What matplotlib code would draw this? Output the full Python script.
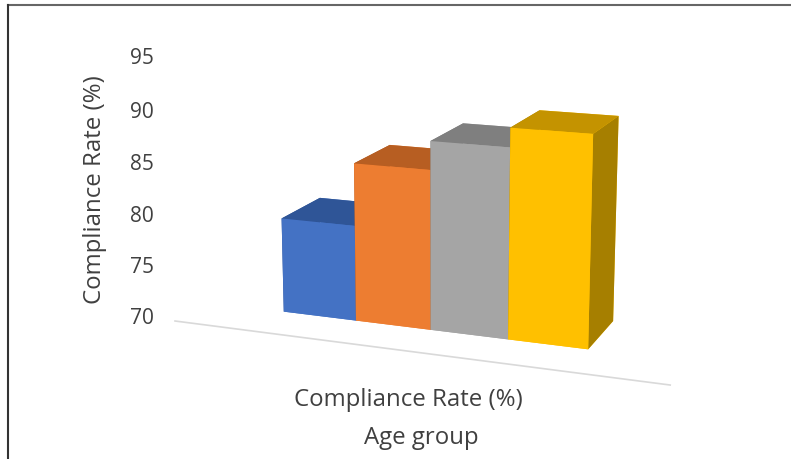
import matplotlib
matplotlib.use("Agg")
import matplotlib.pyplot as plt
from matplotlib.lines import Line2D
from mpl_toolkits.mplot3d import proj3d

# compliance rate per age group (one bar each)
age_groups = ["Group 1", "Group 2", "Group 3", "Group 4"]
rates = [79.3, 85.3, 88.0, 89.8]
z_ticks = [70, 75, 80, 85, 90, 95]

front_colors = ["#4472C4", "#ED7D31", "#A5A5A5", "#FFC000"]
top_colors = ["#2F5597", "#B75E22", "#7F7F7F", "#C49300"]
side_colors = ["#305496", "#A9521A", "#7A7A7A", "#A67F00"]

BASE = 70
X0, X1 = -1.35, 5.0
FLOOR = (-1.1, 5.18)
DEPTH = 2.9
W, H = 791, 459
FLOOR_START_PX = (175, 321)   # where the floor edge begins, pixels from top-left
plt.rcParams["font.family"] = ["Open Sans", "DejaVu Sans"]
TXT = "#404040"

fig = plt.figure(figsize=(W / 100, H / 100), dpi=100)
# oversized axes so nothing near the figure edge gets clipped; zoom compensates
ax = fig.add_axes([-0.5, -0.5, 2.0, 2.0], projection="3d",
                  proj_type="persp", focal_length=0.33)
ax.view_init(elev=13.7, azim=-69)

for i, (v, fc, tc, sc) in enumerate(zip(rates, front_colors, top_colors, side_colors)):
    # face order: bottom, top, front, back, left, right
    faces = [fc, tc, fc, fc, sc, sc]
    ax.bar3d(i, 0.8, BASE, 1.0, 1.1, v - BASE, color=faces, shade=False)

# front edge of the floor
ax.plot(list(FLOOR), [0, 0], [BASE, BASE], color="#D9D9D9", lw=1.2)

ax.set_xlim(X0, X1)
ax.set_ylim(0, DEPTH)
ax.set_zlim(BASE, 95)
ax.set_box_aspect((6.7, 3.15, 3.47), zoom=0.659)
ax.set_xticks([])
ax.set_yticks([])
ax.set_zticks([])
ax.set_axis_off()
for axis in (ax.xaxis, ax.yaxis, ax.zaxis):
    axis.label.set_visible(False)
    axis.offsetText.set_visible(False)


def to_2d(x, y, z):
    px, py, _ = proj3d.proj_transform(x, y, z, ax.get_proj())
    return px, py


# slide the 3D box so the floor edge starts where the frame layout wants it
fig.canvas.draw()
sx, sy = ax.transData.transform(to_2d(FLOOR[0], 0, BASE))
pos = ax.get_position(original=True)
ax.set_position([pos.x0 + (FLOOR_START_PX[0] - sx) / W,
                 pos.y0 + (H - FLOOR_START_PX[1] - sy) / H,
                 pos.width, pos.height])

# value axis labels, right-aligned in one column left of the floor edge
label_x, _ = to_2d(FLOOR[0] - 0.3, 0, BASE)
for t in z_ticks:
    _, py = to_2d(FLOOR[0] - 0.3, 0, t)
    ax.text2D(label_x, py, str(t), transform=ax.transData, ha="right",
              va="center", fontsize=15, color=TXT)

fig.text(95 / W, 1 - 190 / H, "Compliance Rate (%)", rotation=90,
         ha="center", va="center", fontsize=17.3, color=TXT)
fig.text(408 / W, 1 - 400 / H, "Compliance Rate (%)", ha="center",
         va="center", fontsize=17.3, color=TXT)
fig.text(421 / W, 1 - 438 / H, "Age group", ha="center", va="center",
         fontsize=17.3, color=TXT)

# outer frame (top and left edges)
fig.add_artist(Line2D([8 / W, 1], [1 - 5 / H] * 2, color="#666666", lw=1.5))
fig.add_artist(Line2D([8 / W] * 2, [0, 1 - 5 / H], color="#333333", lw=1.5))

fig.savefig("out.png", dpi=100)
